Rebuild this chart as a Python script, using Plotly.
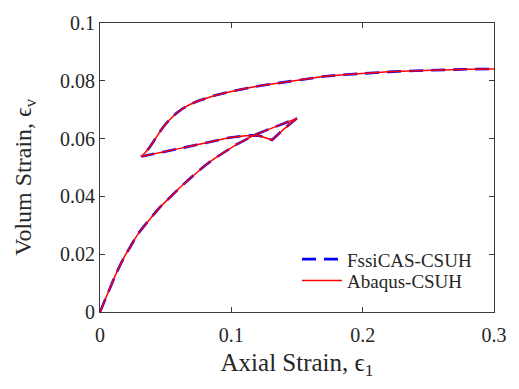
import plotly.graph_objects as go

# Axial strain (epsilon_1) path: loading -> unloading -> reloading
axial_strain = [
    # loading
    0.0, 0.004, 0.0078, 0.0115, 0.0154, 0.019, 0.0229, 0.0265, 0.0305, 0.0355,
    0.0406, 0.0455, 0.0506, 0.0555, 0.0607, 0.067, 0.0733, 0.08, 0.0871, 0.093,
    0.0982, 0.104, 0.11, 0.117, 0.125, 0.1335, 0.142, 0.1499,
    # unloading
    0.140, 0.131, 0.126, 0.122, 0.117, 0.111, 0.098, 0.085, 0.073, 0.062,
    0.0504, 0.041, 0.0315,
    # reloading
    0.0345, 0.0378, 0.041, 0.0441, 0.0472, 0.0504, 0.054, 0.0579, 0.063, 0.068,
    0.074, 0.0806, 0.088, 0.0957, 0.104, 0.1134, 0.122, 0.131, 0.143, 0.156,
    0.17, 0.185, 0.2, 0.22, 0.24, 0.26, 0.28, 0.3,
]

# Volumetric strain (epsilon_v), FssiCAS-CSUH
ev_fssicas = [
    0.0, 0.0045, 0.0085, 0.0125, 0.0163, 0.0195, 0.0224, 0.0253, 0.0280, 0.0309,
    0.0336, 0.0362, 0.0386, 0.0408, 0.0430, 0.0456, 0.0481, 0.0507, 0.0531, 0.0548,
    0.0564, 0.0580, 0.0594, 0.0611, 0.0626, 0.0642, 0.0656, 0.0670,
    0.0633, 0.0595, 0.0603, 0.0609, 0.0611, 0.0610, 0.0603, 0.0591, 0.0578, 0.0567,
    0.0555, 0.0546, 0.0538,
    0.0552, 0.0570, 0.0592, 0.0614, 0.0634, 0.0653, 0.0671, 0.0687, 0.0704, 0.0717,
    0.0729, 0.0740, 0.0750, 0.0759, 0.0768, 0.0776, 0.0783, 0.0789, 0.0798, 0.0807,
    0.0815, 0.0821, 0.0826, 0.0831, 0.0835, 0.0838, 0.0840, 0.0841,
]

# Volumetric strain (epsilon_v), Abaqus-CSUH
ev_abaqus = [
    0.0, 0.0045, 0.0085, 0.0125, 0.0163, 0.0195, 0.0224, 0.0253, 0.0280, 0.0309,
    0.0336, 0.0362, 0.0386, 0.0408, 0.0430, 0.0456, 0.0481, 0.0507, 0.0531, 0.0548,
    0.0564, 0.0580, 0.0594, 0.0611, 0.0626, 0.0642, 0.0656, 0.0670,
    0.0633, 0.0595, 0.0603, 0.0609, 0.0611, 0.0610, 0.0603, 0.0591, 0.0578, 0.0567,
    0.0555, 0.0546, 0.0538,
    0.0552, 0.0570, 0.0592, 0.0614, 0.0634, 0.0653, 0.0671, 0.0687, 0.0704, 0.0717,
    0.0729, 0.0740, 0.0750, 0.0759, 0.0768, 0.0776, 0.0783, 0.0789, 0.0798, 0.0807,
    0.0815, 0.0821, 0.0826, 0.0831, 0.0835, 0.0838, 0.0840, 0.0841,
]

x_ticks = [0, 0.1, 0.2, 0.3]
x_tick_labels = ["0", "0.1", "0.2", "0.3"]
y_ticks = [0, 0.02, 0.04, 0.06, 0.08, 0.1]
y_tick_labels = ["0", "0.02", "0.04", "0.06", "0.08", "0.1"]

FONT = "Liberation Serif, Times New Roman, serif"
AX = "#3a3a3a"
TXT = "#262626"

fig = go.Figure()
fig.add_trace(go.Scatter(x=axial_strain, y=ev_fssicas, mode="lines",
                         name="FssiCAS-CSUH", legend="legend",
                         line=dict(color="#0000ff", width=2.6, dash="14px,8px")))
fig.add_trace(go.Scatter(x=axial_strain, y=ev_abaqus, mode="lines",
                         name="Abaqus-CSUH", legend="legend2",
                         line=dict(color="#ff0000", width=1.5)))

axis_common = dict(showline=True, linecolor=AX, linewidth=1, mirror="ticks",
                   ticks="inside", ticklen=5, tickcolor=AX, showgrid=False,
                   zeroline=False, tickfont=dict(family=FONT, size=20, color=TXT))

legend_common = dict(xanchor="left", yanchor="middle",
                     bgcolor="rgba(255,255,255,0)", borderwidth=0,
                     font=dict(family=FONT, size=19, color=TXT),
                     itemwidth=40)

fig.update_layout(
    width=519, height=389,
    margin=dict(l=100, r=22, t=13, b=77),
    paper_bgcolor="white", plot_bgcolor="white",
    font=dict(family=FONT, color=TXT),
    xaxis=dict(range=[0, 0.3], tickvals=x_ticks, ticktext=x_tick_labels,
               ticklabelstandoff=5,
               title=dict(text="Axial Strain, ϵ<sub>1</sub>",
                          font=dict(family=FONT, size=25, color=TXT), standoff=8),
               **axis_common),
    yaxis=dict(range=[0, 0.1], tickvals=y_ticks, ticktext=y_tick_labels,
               **axis_common),
    legend=dict(x=0.5, y=(312 - 257.5) / 299, **legend_common),
    legend2=dict(x=0.5, y=(312 - 279.5) / 299, **legend_common),
    showlegend=True,
    annotations=[dict(text="Volum Strain, ϵ<sub>v</sub>", textangle=-90,
                      xref="paper", yref="paper", x=-0.19, y=(312 - 172) / 299,
                      xanchor="center", yanchor="middle", showarrow=False,
                      font=dict(family=FONT, size=24, color=TXT))],
)

fig.write_html("out.html")
